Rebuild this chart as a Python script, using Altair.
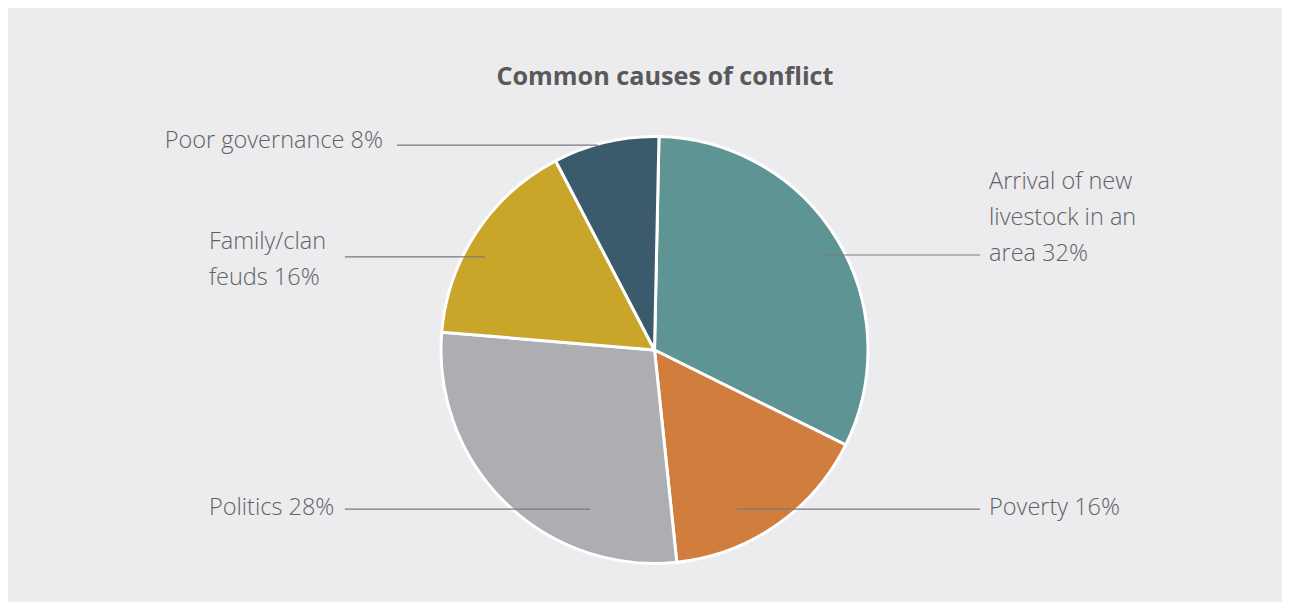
import altair as alt
import pandas as pd
import math

# ---- data ----
categories = ["Arrival of new livestock in an area", "Poverty", "Politics",
              "Family/clan feuds", "Poor governance"]
values = [32, 16, 28, 16, 8]
label_lines = ["Arrival of new\nlivestock in an\narea 32%", "Poverty 16%", "Politics 28%",
               "Family/clan\nfeuds 16%", "Poor governance 8%"]
colors = ["#5f9494", "#d07d3e", "#adaeb2", "#c9a52a", "#3b5a6b"]

# ---- layout (in pie-radius units, origin at pie centre) ----
lab_x = [1.567, 1.567, -2.087, -2.087, -1.272]
lab_y = [0.787, -0.740, -0.740, 0.506, 0.979]
lab_align = ["left", "left", "left", "left", "right"]
ln_x1 = [0.785, 0.386, -1.450, -1.450, -1.206]
ln_x2 = [1.525, 1.525, -0.302, -0.794, -0.265]
ln_y = [0.445, -0.745, -0.745, 0.436, 0.960]

W, H = 1274, 594
R = 213.5
CX, CY = 646.5, 342.0
xs = alt.Scale(domain=[-CX / R, (W - CX) / R], nice=False, zero=False)
ys = alt.Scale(domain=[-(H - CY) / R, CY / R], nice=False, zero=False)

pie_df = pd.DataFrame({"category": categories, "value": values,
                       "order": list(range(len(values))), "cx": 0.0, "cy": 0.0})
lab_df = pd.DataFrame({"label": label_lines, "x": lab_x, "y": lab_y, "align": lab_align,
                       "x1": ln_x1, "x2": ln_x2, "ly": ln_y})

offset = math.radians(1.2)
pie = alt.Chart(pie_df).mark_arc(outerRadius=R, stroke="white", strokeWidth=3).encode(
    theta=alt.Theta("value:Q", stack=True,
                    scale=alt.Scale(range=[offset, offset + 2 * math.pi])),
    color=alt.Color("category:N", scale=alt.Scale(domain=categories, range=colors), legend=None),
    order=alt.Order("order:Q"),
    x=alt.X("cx:Q", scale=xs, axis=None),
    y=alt.Y("cy:Q", scale=ys, axis=None),
)

rules = alt.Chart(lab_df).mark_rule(color="#7a7a7c", strokeWidth=1.2).encode(
    x=alt.X("x1:Q", scale=xs, axis=None),
    x2="x2:Q",
    y=alt.Y("ly:Q", scale=ys, axis=None),
)

def labels(align):
    return alt.Chart(lab_df[lab_df["align"] == align]).mark_text(
        align=align, baseline="middle", font="Open Sans", fontSize=23.5, fontWeight=300,
        color="#616265", lineBreak="\n", lineHeight=36,
    ).encode(
        x=alt.X("x:Q", scale=xs, axis=None),
        y=alt.Y("y:Q", scale=ys, axis=None),
        text="label:N",
    )

title_df = pd.DataFrame({"t": ["Common causes of conflict"], "x": [0.049], "y": [1.279]})
title = alt.Chart(title_df).mark_text(
    align="center", baseline="middle", font="Open Sans", fontSize=25.2, fontWeight="bold",
    color="#58595b",
).encode(
    x=alt.X("x:Q", scale=xs, axis=None),
    y=alt.Y("y:Q", scale=ys, axis=None),
    text="t:N",
)

chart = alt.layer(pie, rules, labels("left"), labels("right"), title).properties(
    width=W, height=H, padding=0, autosize=alt.AutoSizeParams(type="none"),
    background="#ecebed",
).configure_view(stroke=None)

chart.save("out.html", embed_options={"renderer": "svg", "actions": False})
